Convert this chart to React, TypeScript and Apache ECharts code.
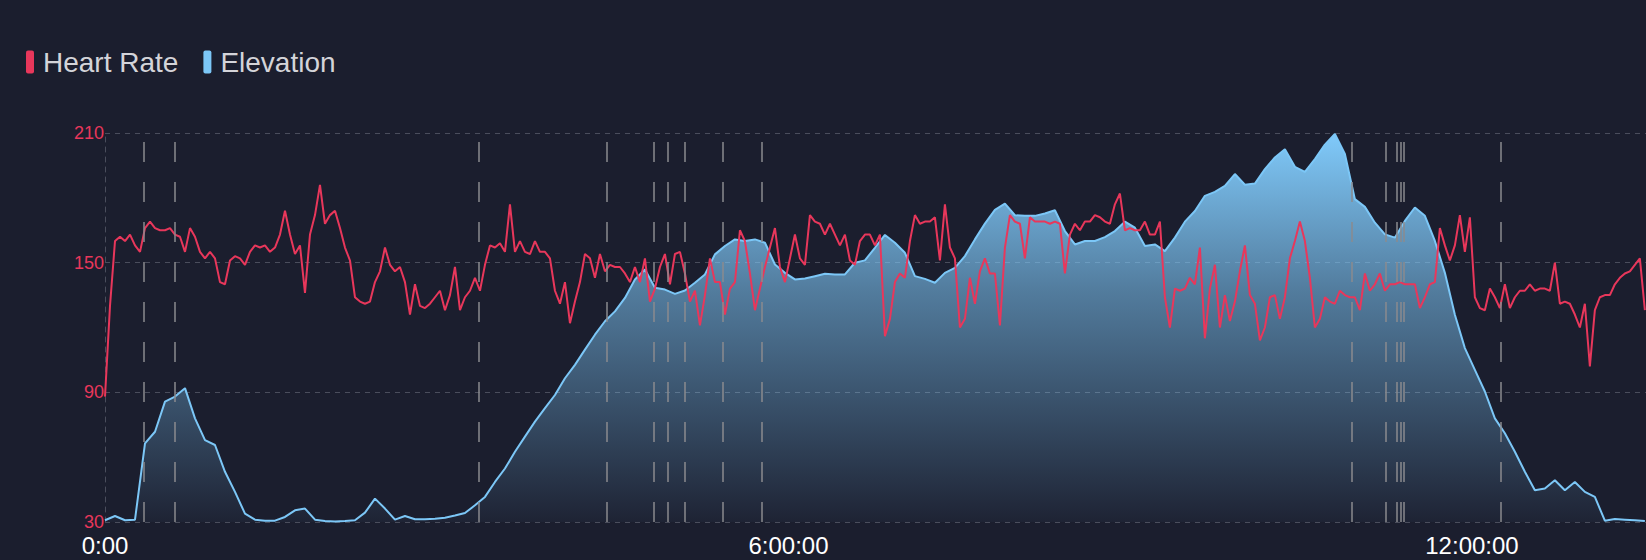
import React, { useEffect, useRef } from "react";
import * as echarts from "echarts";

// Heart rate samples (bpm), one every HR_STEP_SEC seconds from 0:00
const HR_STEP_SEC = 158;
const HEART_RATE = [
  88, 130, 160, 162, 160, 163, 158, 155, 166, 169, 166, 165, 165, 166, 163, 162, 155, 166, 162, 155,
  152, 155, 152, 141, 140, 151, 153, 152, 149, 155, 158, 157, 158, 155, 157, 163, 174, 163, 154, 158,
  136, 163, 172, 186, 168, 172, 174, 166, 157, 151, 134,
  132, 131, 132, 141, 146, 157, 149, 146, 148, 141, 126, 140, 130, 129, 131, 134, 137, 128, 135, 148,
  128, 134, 137, 143, 137, 149, 158, 157, 159, 155, 177, 155, 160, 155, 154, 160, 155, 155, 152, 137,
  131, 141, 122, 132, 141, 154, 152, 143, 154, 146, 149, 148,
  148, 145, 141, 148, 141, 152, 132, 138, 148, 154, 140, 154, 155, 145, 132, 137, 121, 135, 152, 141,
  141, 126, 138, 141, 165, 160, 145, 128, 138, 148, 157, 166, 148, 141, 152, 163, 152, 149, 172, 169,
  168, 163, 168, 163, 158, 163, 151, 149, 160, 163, 163, 158,
  163, 116, 124, 141, 145, 143, 160, 172, 168, 169, 169, 171, 151, 177, 157, 152, 120, 124, 143, 131,
  146, 152, 145, 145, 121, 157, 172, 169, 168, 152, 171, 169, 169, 169, 168, 169, 168, 145, 163, 168,
  165, 169, 169, 172, 171, 169, 168, 177, 182, 165, 166, 165,
  165, 169, 163, 163, 169, 134, 120, 138, 137, 138, 143, 140, 157, 115, 138, 149, 120, 135, 123, 132,
  146, 158, 135, 131, 114, 120, 134, 135, 124, 134, 152, 160, 169, 160, 143, 120, 124, 134, 132, 131,
  137, 135, 134, 134, 128, 145, 137, 140, 145, 137, 140, 140,
  141, 140, 140, 140, 129, 134, 140, 141, 166, 158, 151, 158, 172, 155, 171, 134, 129, 128, 138, 134,
  129, 140, 129, 134, 137, 137, 140, 137, 138, 138, 137, 150, 131, 132, 131, 126, 120, 131, 102, 128,
  134, 135, 135, 140, 143, 145, 146, 149, 152, 128,
];

// Elevation samples (m), one every ELEV_STEP_SEC seconds from 0:00
const ELEV_STEP_SEC = 316;
const ELEVATION = [
  9, 31, 9, 12, 404, 464, 619, 645, 688, 533, 421, 396, 258, 155, 43, 12, 7, 7, 26, 60, 69, 12, 5, 3, 5, 9,
  48, 120, 69, 12, 31, 14, 14, 17, 22, 33, 46, 86, 129, 206, 275, 361, 439, 516, 585, 653, 739, 808, 886, 963, 1032, 1083,
  1152, 1247, 1298, 1204, 1195, 1173, 1190, 1230, 1273, 1376, 1419, 1453, 1445, 1453, 1436, 1324, 1281, 1247, 1252, 1264, 1276, 1273, 1273, 1333, 1345, 1410,
  1476, 1436, 1384, 1264, 1250, 1230, 1281, 1307, 1367, 1453, 1534, 1605, 1637, 1577, 1574, 1574, 1586, 1603, 1496, 1427, 1445, 1445, 1465, 1496, 1544, 1513,
  1419, 1427, 1393, 1462, 1544, 1599, 1677, 1697, 1728, 1789, 1734, 1740, 1814, 1874, 1917, 1826, 1800, 1866, 1940, 1995, 1892, 1660, 1620, 1539, 1479, 1462,
  1548, 1617, 1574, 1445, 1281, 1066, 894, 782, 671, 533, 456, 361, 258, 163, 172, 215, 163, 206, 155, 129, 7, 15, 12, 9, 5,
];

// Lap markers (seconds from start)
const LAP_TIMES = [1226, 2190, 11812, 15860, 17352, 17782, 18313, 19507, 20769, 39414, 40479, 40811, 40940, 41042, 44095];

const X_TICK_STEP = 21600;
const X_TICK_LABELS = ["0:00", "6:00:00", "12:00:00"];
const X_MAX = 48700;
const HR_MIN = 30;
const HR_MAX = 210;
const HR_INTERVAL = 60;
const ELEV_MIN = 0;
const ELEV_MAX = 2000;

const FONT = "'Liberation Sans', Arial, sans-serif";

export default function App() {
  const ref = useRef<HTMLDivElement>(null);

  useEffect(() => {
    if (!ref.current) return;
    const chart = echarts.init(ref.current, undefined, { renderer: "svg" });
    const hrData = HEART_RATE.map((v, i) => [i * HR_STEP_SEC, v]);
    const elevData = ELEVATION.map((v, i) => [i * ELEV_STEP_SEC, v]);

    chart.setOption({
      animation: false,
      backgroundColor: "#1b1e2e",
      textStyle: { fontFamily: FONT },
      legend: {
        left: 26,
        top: 48,
        padding: 0,
        itemGap: 25,
        itemWidth: 8,
        itemHeight: 23,
        icon: "roundRect",
        textStyle: { color: "#d4d4d9", fontSize: 28, fontFamily: FONT, padding: [0, 0, 0, 4] },
        data: [
          { name: "Heart Rate", itemStyle: { color: "#e8375b" } },
          { name: "Elevation", itemStyle: { color: "#7cc7f7" } },
        ],
      },
      grid: { left: 105, right: 0, top: 133, bottom: 38, containLabel: false },
      xAxis: {
        type: "value",
        min: 0,
        max: X_MAX,
        interval: X_TICK_STEP,
        axisLine: { show: false },
        axisTick: { show: false },
        splitLine: { show: false },
        axisLabel: {
          color: "#ffffff",
          fontSize: 24,
          fontFamily: FONT,
          margin: 11,
          showMaxLabel: false,
          formatter: (v: number) => X_TICK_LABELS[Math.round(v / X_TICK_STEP)] ?? "",
        },
      },
      yAxis: [
        {
          type: "value",
          min: HR_MIN,
          max: HR_MAX,
          interval: HR_INTERVAL,
          axisLine: { show: true, lineStyle: { color: "#4a4d5c", type: [5, 5], width: 1 } },
          axisTick: { show: false },
          axisLabel: { color: "#e8375b", fontSize: 18, fontFamily: FONT, margin: 1 },
          splitLine: { show: true, lineStyle: { color: "#4a4d5c", type: [5, 5], width: 1 } },
        },
        {
          type: "value",
          min: ELEV_MIN,
          max: ELEV_MAX,
          show: false,
          splitLine: { show: false },
        },
      ],
      series: [
        {
          name: "Heart Rate",
          type: "line",
          data: hrData,
          showSymbol: false,
          symbol: "none",
          z: 4,
          lineStyle: { color: "#e8375b", width: 2 },
          itemStyle: { color: "#e8375b" },
        },
        {
          name: "Elevation",
          type: "line",
          yAxisIndex: 1,
          data: elevData,
          showSymbol: false,
          symbol: "none",
          z: 2,
          lineStyle: { color: "#7cc7f7", width: 2 },
          itemStyle: { color: "#7cc7f7" },
          areaStyle: {
            opacity: 1,
            color: new echarts.graphic.LinearGradient(0, 0, 0, 1, [
              { offset: 0, color: "rgba(128,202,250,1)" },
              { offset: 0.4, color: "rgba(128,202,250,0.55)" },
              { offset: 1, color: "rgba(128,202,250,0.03)" },
            ]),
          },
        },
        {
          name: "Laps",
          type: "line",
          data: [],
          z: 3,
          markLine: {
            silent: true,
            symbol: ["none", "none"],
            label: { show: false },
            lineStyle: { color: "#8a8a8e", width: 1.5, type: [20, 20] },
            data: LAP_TIMES.map((t) => ({ xAxis: t })),
          },
        },
      ],
    });

    return () => chart.dispose();
  }, []);

  return (
    <div
      ref={ref}
      style={{ position: "fixed", left: 0, top: 0, width: 1646, height: 560 }}
    />
  );
}
